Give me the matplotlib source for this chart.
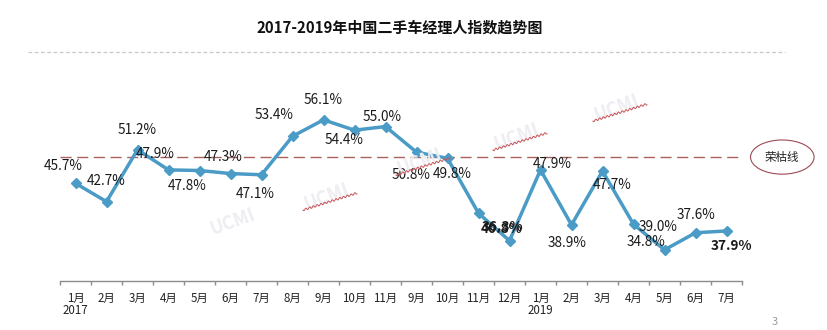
import numpy as np
import matplotlib.pyplot as plt
from matplotlib.patches import Ellipse
from matplotlib.lines import Line2D
from matplotlib.transforms import blended_transform_factory

plt.rcParams['font.family'] = ['Noto Sans CJK SC', 'DejaVu Sans']

title = '2017-2019年中国二手车经理人指数趋势图'
months = ['1月', '2月', '3月', '4月', '5月', '6月', '7月', '8月', '9月', '10月', '11月',
          '9月', '10月', '11月', '12月',
          '1月', '2月', '3月', '4月', '5月', '6月', '7月']
years = {0: '2017', 15: '2019'}
index = [45.7, 42.7, 51.2, 47.9, 47.8, 47.3, 47.1, 53.4, 56.1, 54.4, 55.0,
         50.8, 49.8, 40.8, 36.3,
         47.9, 38.9, 47.7, 39.0, 34.8, 37.6, 37.9]
threshold = 50.0
threshold_label = '荣枯线'

# label offsets in pixels (dx right, dy down) from each point
label_offsets = [(-12, -17), (0, -21), (0, -20), (-13, -16), (-12, 16), (-7, -17), (-6, 19),
                 (-18, -21), (0, -20), (-10, 10), (-3, -10), (-5, 23), (5, 16),
                 (23, 16), (-7, -14), (12, -6), (-4, 18), (10, 14), (25, 3),
                 (-18, -8), (1, -18), (5, 15)]
bold_labels = {13, 14, 21}

W, H = 827, 330
fig = plt.figure(figsize=(W / 100, H / 100), dpi=100)
ax = fig.add_axes([60 / W, (H - 281) / H, 682 / W, 221 / H])

x = np.arange(len(index))
line_color = '#4A9BC6'
ax.plot(x, index, color=line_color, lw=2.5, marker='D', ms=5.5,
        markerfacecolor=line_color, markeredgecolor=line_color, zorder=3)

ax.axhline(threshold, color='#A8625F', lw=1.0, ls=(0, (8, 4)), zorder=1)

for i, (v, (dx, dy)) in enumerate(zip(index, label_offsets)):
    ax.annotate(f'{v:.1f}%', (x[i], v), xytext=(dx * 0.72, -dy * 0.72),
                textcoords='offset points', ha='center', va='center',
                fontsize=9.8, color='#1a1a1a',
                fontweight='bold' if i in bold_labels else 'normal', zorder=4)

ax.set_xlim(-0.5, len(index) - 0.5)
ax.set_ylim(29.7, 65.9)

for s in ['top', 'right', 'left']:
    ax.spines[s].set_visible(False)
ax.spines['bottom'].set_color('#8C8C8C')
ax.spines['bottom'].set_linewidth(1.0)
ax.set_yticks([])
ax.set_xticks(x)
ax.set_xticklabels(months, fontsize=8.3, color='#222222')
ax.tick_params(axis='x', which='major', length=0, pad=8)
ax.set_xticks(np.arange(-0.5, len(index), 1), minor=True)
ax.tick_params(axis='x', which='minor', length=3, color='#8C8C8C', width=1.0)

trans = blended_transform_factory(ax.transData, ax.transAxes)
for pos, yr in years.items():
    ax.text(pos, -0.135, yr, transform=trans, ha='center', va='center',
            fontsize=8.3, color='#222222')

# 荣枯线 tag
ax.add_patch(Ellipse((22.8, threshold), 2.05, 5.6, facecolor='white',
                     edgecolor='#9B4A55', lw=0.8, clip_on=False, zorder=2))
ax.text(22.8, threshold, threshold_label, ha='center', va='center',
        fontsize=8.3, color='#222222', clip_on=False)

# title and separator
fig.text(400 / W, 1 - 28 / H, title, ha='center', va='center',
         fontsize=10.8, fontweight='bold', color='#111111')
fig.add_artist(Line2D([28 / W, 785 / W], [1 - 52 / H, 1 - 52 / H],
                      transform=fig.transFigure, color='#C8C8C8', lw=0.9,
                      ls=(0, (3, 2))))

# faint watermarks
marks = [(233, 222, False), (327, 197, True), (420, 162, True), (517, 137, True), (617, 108, True)]
for mx, my, squiggle in marks:
    fig.text(mx / W, 1 - my / H, 'UCMI', rotation=20, ha='center', va='center',
             fontsize=13, fontweight='bold', color='#EDEDF2', zorder=0)
    if squiggle:
        t = np.linspace(0, 1, 120)
        sx = mx - 24 + 54 * t
        sy = my + 13 - 17 * t + 1.0 * np.sin(t * 90)
        fig.add_artist(Line2D(sx / W, 1 - sy / H, transform=fig.transFigure,
                              color='#C8555A', lw=0.7))

fig.text(775 / W, 1 - 322 / H, '3', ha='center', va='center', fontsize=8, color='#9A9A9A')

fig.savefig('out.png', dpi=100, facecolor='white')
